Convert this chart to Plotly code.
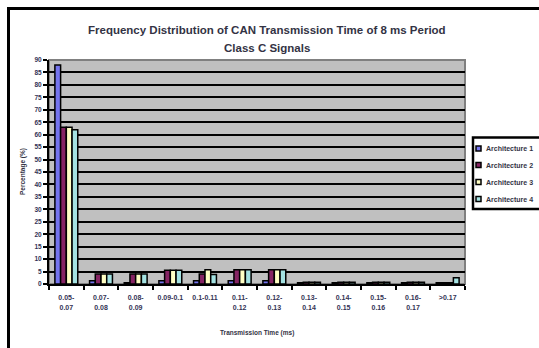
import plotly.graph_objects as go

# Transmission-time bins (ms)
categories = ["0.05-<br>0.07", "0.07-<br>0.08", "0.08-<br>0.09", "0.09-0.1", "0.1-0.11",
              "0.11-<br>0.12", "0.12-<br>0.13", "0.13-<br>0.14", "0.14-<br>0.15",
              "0.15-<br>0.16", "0.16-<br>0.17", ">0.17"]

# Percentage of signals per bin for each architecture
arch1 = [88.0, 1.3, 0.5, 1.3, 1.3, 1.3, 1.3, 0.5, 0.5, 0.5, 0.5, 0.5]
arch2 = [63.0, 4.0, 4.0, 5.5, 4.0, 5.7, 5.7, 0.7, 0.7, 0.7, 0.7, 0.5]
arch3 = [63.0, 4.0, 4.0, 5.5, 5.7, 5.7, 5.7, 0.7, 0.7, 0.7, 0.7, 0.5]
arch4 = [62.0, 4.0, 4.0, 5.5, 3.8, 5.7, 5.7, 0.7, 0.7, 0.7, 0.7, 2.5]

series_names = ["Architecture 1", "Architecture 2", "Architecture 3", "Architecture 4"]
colors = ["#7474EE", "#862463", "#FFFFC4", "#A4E2E2"]

y_ticks = list(range(0, 95, 5))

# Plot-area geometry in pixels
W, H = 539, 348
L, R, T, B = 49, 74, 60, 64
PW, PH = W - L - R, H - T - B


def px_x(px):
    return (px - L) / PW


def px_y(py):
    return (H - B - py) / PH


fig = go.Figure()
for name, vals, col in zip(series_names, [arch1, arch2, arch3, arch4], colors):
    fig.add_trace(go.Bar(
        x=categories, y=vals, name=name, showlegend=False,
        marker=dict(color=col, line=dict(color="black", width=1.5)),
    ))

font_family = "Liberation Sans, Arial, sans-serif"

fig.update_layout(
    width=W, height=H,
    margin=dict(l=L, r=R, t=T, b=B, autoexpand=False),
    paper_bgcolor="white",
    plot_bgcolor="#C0C0C0",
    barmode="group",
    bargap=0.34,
    bargroupgap=0.0,
    font=dict(family=font_family, color="black", size=6),
    showlegend=False,
    xaxis=dict(
        showline=True, linecolor="black", linewidth=2,
        ticks="outside", ticklen=4, tickwidth=2, tickcolor="black",
        tickson="boundaries", showgrid=False,
        tickfont=dict(size=7, family=font_family, weight="bold", color="#333355"),
        tickangle=0, ticklabelstandoff=6,
    ),
    yaxis=dict(
        range=[0, 90], tickvals=y_ticks,
        showline=True, linecolor="black", linewidth=2,
        ticks="outside", ticklen=4, tickwidth=2, tickcolor="black",
        showgrid=True, gridcolor="black", gridwidth=2,
        zeroline=False,
        tickfont=dict(size=6.5, family=font_family, weight="bold", color="#333355"),
    ),
)

# Title (two lines) and axis titles
title_color = "#333344"
fig.add_annotation(text="<b>Frequency Distribution of CAN Transmission Time of 8 ms Period</b>",
                   xref="paper", yref="paper", x=px_x(267), y=px_y(30),
                   showarrow=False, font=dict(size=11.5, color=title_color),
                   xanchor="center", yanchor="middle")
fig.add_annotation(text="<b>Class C Signals</b>",
                   xref="paper", yref="paper", x=px_x(267), y=px_y(48),
                   showarrow=False, font=dict(size=11.5, color=title_color),
                   xanchor="center", yanchor="middle")
fig.add_annotation(text="<b>Percentage (%)</b>",
                   xref="paper", yref="paper", x=px_x(23), y=0.5,
                   showarrow=False, textangle=-90, font=dict(size=6.5, color=title_color),
                   xanchor="center", yanchor="middle")
fig.add_annotation(text="<b>Transmission Time (ms)</b>",
                   xref="paper", yref="paper", x=px_x(257), y=px_y(333),
                   showarrow=False, font=dict(size=6.5, color=title_color),
                   xanchor="center", yanchor="middle")

# Legend: box, swatches and labels
fig.add_shape(type="rect", xref="paper", yref="paper",
              x0=px_x(473), y0=px_y(209), x1=px_x(560), y1=px_y(137.5),
              line=dict(color="black", width=2.5), fillcolor="white")
legend_rows = [148.5, 165, 182, 199]
for name, col, ry in zip(series_names, colors, legend_rows):
    fig.add_shape(type="rect", xref="paper", yref="paper",
                  x0=px_x(476), y0=px_y(ry + 2.5), x1=px_x(481), y1=px_y(ry - 2.5),
                  line=dict(color="black", width=1.5), fillcolor=col)
    fig.add_annotation(text="<b>" + name + "</b>", xref="paper", yref="paper",
                       x=px_x(484), y=px_y(ry), showarrow=False,
                       xanchor="left", yanchor="middle",
                       font=dict(size=7, color=title_color))

# Plot-area frame (gray) and the chart's outer border
fig.add_shape(type="rect", xref="paper", yref="paper", x0=0, y0=0, x1=1, y1=1,
              line=dict(color="#808080", width=2), layer="below")
fig.add_shape(type="rect", xref="paper", yref="paper",
              x0=px_x(8.5), y0=-1.0, x1=2.0, y1=px_y(8.5),
              line=dict(color="black", width=3))

fig.write_html("out.html")
